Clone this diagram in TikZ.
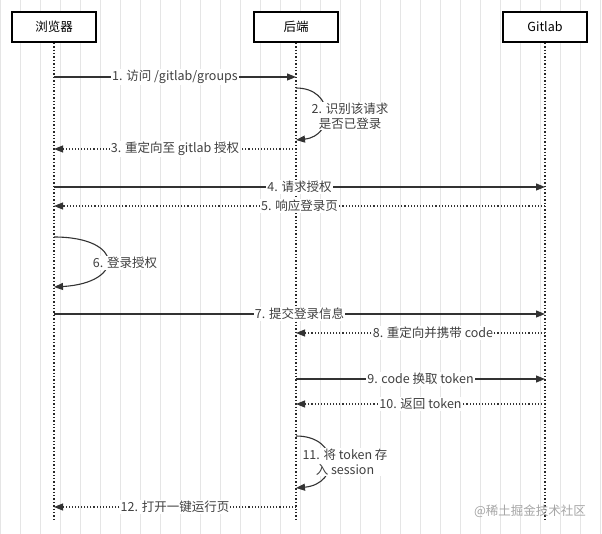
\documentclass[tikz,border=0pt]{standalone}
\usepackage{fontspec}
\setmainfont{Noto Sans CJK SC}
\usetikzlibrary{arrows.meta}
\begin{document}
\begin{tikzpicture}[x=1pt,y=-1pt,
  font=\fontsize{12.5}{15}\selectfont,
  actor/.style={draw=black,line width=1.6pt,minimum width=84pt,minimum height=30pt,fill=white,inner sep=0pt},
  life/.style={line width=1.4pt,dotted,black!85},
  msg/.style={line width=1.1pt,black!80,-{Triangle[length=9pt,width=7pt]}},
  ret/.style={msg,dotted},
  lbl/.style={fill=white,inner sep=1pt,text=black!75,align=center}]
\useasboundingbox (0,0) rectangle (602,534);
\fill[white] (0,0) rectangle (602,534);
\draw[black!10,line width=0.5pt] (0,0) grid[step=20] (602,534);
\node[actor] (b) at (54,27) {浏览器};
\node[actor] (s) at (296,27) {后端};
\node[actor] (g) at (545,27) {Gitlab};
\coordinate (be) at (54,520);
\coordinate (se) at (296,520);
\coordinate (ge) at (545,520);
\draw[life] (b.south) -- (be);
\draw[life] (s.south) -- (se);
\draw[life] (g.south) -- (ge);
\foreach \n/\x in {b/54,s/296,g/545}{
  \foreach \y in {77,88,140,149,187,206,237,287,314,333,379,404,436,488,507}{
    \coordinate (\n\y) at (\x,\y);}}
\draw[msg] (b77) -- node[lbl]{1. 访问 /gitlab/groups} (s77);
\draw[msg] (s88) .. controls (335,88) and (335,136) .. (s140);
\node[lbl] (l2) at (350,116) {2. 识别该请求\\是否已登录};
\draw[ret] (s149) -- node[lbl]{3. 重定向至 gitlab 授权} (b149);
\draw[msg] (b187) -- node[lbl]{4. 请求授权} (g187);
\draw[ret] (g206) -- node[lbl]{5. 响应登录页} (b206);
\draw[msg] (b237) .. controls (125,237) and (125,283) .. (b287);
\node[lbl] (l6) at (125,263) {6. 登录授权};
\draw[msg] (b314) -- node[lbl]{7. 提交登录信息} (g314);
\draw[ret] (g333) -- node[lbl,pos=0.45]{8. 重定向并携带 code} (s333);
\draw[msg] (s379) -- node[lbl]{9. code 换取 token} (g379);
\draw[ret] (g404) -- node[lbl]{10. 返回 token} (s404);
\draw[msg] (s436) .. controls (340,436) and (340,484) .. (s488);
\node[lbl] (l11) at (345,462) {11. 将 token 存\\入 session};
\draw[ret] (s507) -- node[lbl]{12. 打开一键运行页} (b507);
\node[text=black!35,font=\fontsize{12.5}{15}\selectfont] (wm) at (530,511) {@稀土掘金技术社区};
\end{tikzpicture}
\end{document}
